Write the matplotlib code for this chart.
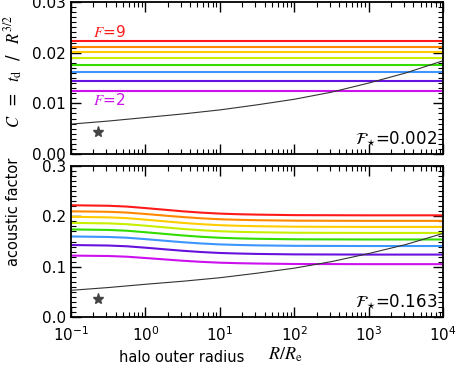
"""Distortion constant C and acoustic factor vs. halo outer radius."""

import numpy as np
import matplotlib
import matplotlib.pyplot as plt
from matplotlib.ticker import (LogLocator, MultipleLocator, NullFormatter,
                               FormatStrFormatter)

matplotlib.use("Agg")

plt.rcParams["font.family"] = ["DejaVu Sans"]
plt.rcParams["mathtext.fontset"] = "stix"
plt.rcParams["font.size"] = 10

# F = 2 .. 9 (bottom to top)
F_values = [2, 3, 4, 5, 6, 7, 8, 9]
F_colors = ["#cc11ee", "#6611dd", "#3d96ff", "#33dd00",
            "#c8ee00", "#ffcc00", "#ff8800", "#ff1a1a"]

# top panel: C is flat in R
C_values = [0.0124, 0.0145, 0.0161, 0.0176, 0.0189, 0.0201, 0.0212, 0.0223]

# bottom panel: acoustic factor vs R/Re
R_grid = [0.1, 0.316, 0.562, 1.0, 1.78, 3.16, 5.62, 10.0, 17.8, 31.6,
          100.0, 1000.0, 10000.0]
acoustic = {
    2: [0.1220, 0.1212, 0.1198, 0.1172, 0.1145, 0.1118, 0.1096, 0.1079,
        0.1069, 0.1062, 0.1053, 0.1050, 0.1050],
    3: [0.1430, 0.1420, 0.1405, 0.1377, 0.1346, 0.1316, 0.1291, 0.1272,
        0.1261, 0.1253, 0.1244, 0.1240, 0.1240],
    4: [0.1600, 0.1590, 0.1575, 0.1547, 0.1516, 0.1486, 0.1461, 0.1442,
        0.1431, 0.1423, 0.1414, 0.1410, 0.1410],
    5: [0.1740, 0.1730, 0.1714, 0.1684, 0.1652, 0.1620, 0.1594, 0.1574,
        0.1562, 0.1554, 0.1544, 0.1540, 0.1540],
    6: [0.1870, 0.1860, 0.1844, 0.1814, 0.1782, 0.1750, 0.1724, 0.1704,
        0.1692, 0.1684, 0.1674, 0.1670, 0.1670],
    7: [0.1990, 0.1980, 0.1964, 0.1934, 0.1902, 0.1870, 0.1844, 0.1824,
        0.1812, 0.1804, 0.1794, 0.1790, 0.1790],
    8: [0.2100, 0.2090, 0.2075, 0.2047, 0.2016, 0.1986, 0.1961, 0.1942,
        0.1931, 0.1923, 0.1914, 0.1910, 0.1910],
    9: [0.2220, 0.2210, 0.2194, 0.2164, 0.2132, 0.2100, 0.2074, 0.2054,
        0.2042, 0.2034, 0.2024, 0.2020, 0.2020],
}

# thin black reference curve
R_black = [0.1, 0.316, 1.0, 3.16, 10.0, 31.6, 100.0, 316.0, 1000.0, 3162.0, 10000.0]
C_black = [0.0059, 0.0065, 0.0072, 0.0079, 0.0087, 0.0097, 0.0108, 0.0122,
           0.0140, 0.0160, 0.0184]
A_black = [0.053, 0.0585, 0.065, 0.071, 0.078, 0.087, 0.097, 0.110,
           0.126, 0.144, 0.166]

# star markers
star_R = 0.23
star_C = 0.0044
star_A = 0.035

F_star = ["0.002", "0.163"]

W, H = 458, 368
fig = plt.figure(figsize=(W / 100, H / 100), dpi=100)
ax1 = fig.add_axes([71 / W, 1 - 154 / H, 372 / W, 152 / H])
ax2 = fig.add_axes([71 / W, 1 - 317 / H, 372 / W, 151 / H])

for F, c, col in zip(F_values, C_values, F_colors):
    ax1.plot([R_grid[0], R_grid[-1]], [c, c], color=col, lw=1.5)
    ax2.plot(R_grid, acoustic[F], color=col, lw=1.5)

ax1.plot(R_black, C_black, color="#333333", lw=0.8)
ax2.plot(R_black, A_black, color="#333333", lw=0.8)
ax1.plot(star_R, star_C, marker="*", color="#444444", ms=8, ls="none")
ax2.plot(star_R, star_A, marker="*", color="#444444", ms=8, ls="none")

ax1.text(0.2, 0.0241, r"$F$=9", color=F_colors[-1], fontsize=11,
         va="center", ha="left")
ax1.text(0.2, 0.0106, r"$F$=2", color=F_colors[0], fontsize=11,
         va="center", ha="left")

for ax, fs in zip((ax1, ax2), F_star):
    ax.text(0.985, 0.035, r"$\mathcal{F}_{\star}$=" + fs, transform=ax.transAxes,
            ha="right", va="bottom", fontsize=12)

ax1.set_ylim(0, 0.03)
ax2.set_ylim(0, 0.3)
ax1.yaxis.set_major_locator(MultipleLocator(0.01))
ax1.yaxis.set_minor_locator(MultipleLocator(0.001))
ax2.yaxis.set_major_locator(MultipleLocator(0.1))
ax2.yaxis.set_minor_locator(MultipleLocator(0.01))
ax1.yaxis.set_major_formatter(FormatStrFormatter("%.2f"))
ax2.yaxis.set_major_formatter(FormatStrFormatter("%.1f"))

for ax in (ax1, ax2):
    ax.set_xscale("log")
    ax.set_xlim(0.1, 1e4)
    ax.xaxis.set_major_locator(LogLocator(base=10, numticks=10))
    ax.xaxis.set_minor_locator(LogLocator(base=10, subs=np.arange(2, 10), numticks=20))
    ax.xaxis.set_minor_formatter(NullFormatter())
    ax.tick_params(which="both", direction="in", top=True, right=True,
                   labelsize=11)
    ax.tick_params(which="major", length=7, width=1.0)
    ax.tick_params(which="minor", length=3.5, width=0.8)
    for s in ax.spines.values():
        s.set_linewidth(1.3)

ax1.tick_params(labelbottom=False)
ax2.tick_params(axis="x", pad=6)

fig.text(244 / W, 1 - 357 / H, "halo outer radius",
         ha="right", va="center", fontsize=10.5)
fig.text(268 / W, 1 - 355 / H, r"$R/R_{\rm e}$",
         ha="left", va="center", fontsize=13)
fig.text(14 / W, 1 - 72 / H, r"$C$  =  $t_{\rm d}$  /  $R^{3/2}$",
         rotation=90, ha="center", va="center", fontsize=12)
fig.text(14 / W, 1 - 212 / H, "acoustic factor",
         rotation=90, ha="center", va="center", fontsize=10.5)

fig.savefig("out.png", dpi=100)
plt.close(fig)
